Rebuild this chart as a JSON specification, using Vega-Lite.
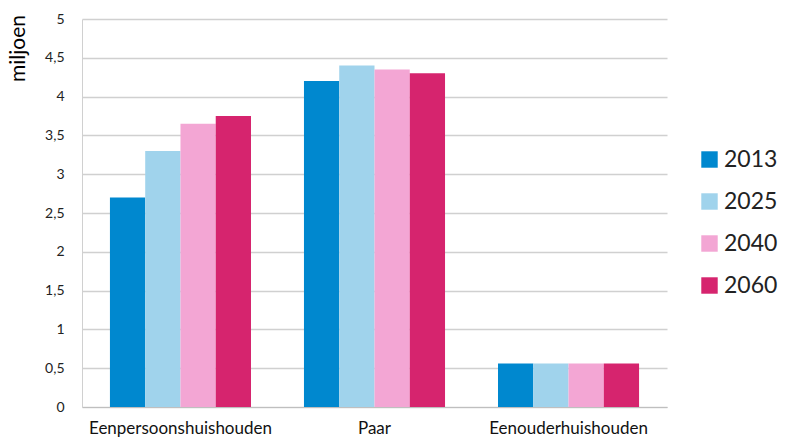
{
  "$schema": "https://vega.github.io/schema/vega-lite/v6.json",
  "width": 585,
  "height": 388,
  "autosize": {"type": "none"},
  "padding": {"left": 82, "top": 19, "right": 119, "bottom": 33},
  "background": "white",
  "data": {
    "values": [
      {"type": "Eenpersoonshuishouden", "jaar": "2013", "waarde": 2.7},
      {"type": "Eenpersoonshuishouden", "jaar": "2025", "waarde": 3.3},
      {"type": "Eenpersoonshuishouden", "jaar": "2040", "waarde": 3.65},
      {"type": "Eenpersoonshuishouden", "jaar": "2060", "waarde": 3.75},
      {"type": "Paar", "jaar": "2013", "waarde": 4.2},
      {"type": "Paar", "jaar": "2025", "waarde": 4.4},
      {"type": "Paar", "jaar": "2040", "waarde": 4.35},
      {"type": "Paar", "jaar": "2060", "waarde": 4.3},
      {"type": "Eenouderhuishouden", "jaar": "2013", "waarde": 0.56},
      {"type": "Eenouderhuishouden", "jaar": "2025", "waarde": 0.56},
      {"type": "Eenouderhuishouden", "jaar": "2040", "waarde": 0.56},
      {"type": "Eenouderhuishouden", "jaar": "2060", "waarde": 0.56}
    ]
  },
  "mark": {"type": "bar"},
  "encoding": {
    "x": {
      "field": "type",
      "type": "nominal",
      "sort": ["Eenpersoonshuishouden", "Paar", "Eenouderhuishouden"],
      "scale": {"paddingInner": 0.273, "paddingOuter": 0.144},
      "axis": {
        "title": null,
        "labelAngle": 0,
        "ticks": false,
        "domainColor": "#bfbfbf",
        "labelFont": "Lato",
        "labelFontSize": 17,
        "labelLimit": 400,
        "labelColor": "#111111",
        "labelPadding": 13
      }
    },
    "xOffset": {
      "field": "jaar",
      "type": "nominal",
      "scale": {"paddingInner": 0, "paddingOuter": 0}
    },
    "y": {
      "field": "waarde",
      "type": "quantitative",
      "scale": {"domain": [0, 5], "nice": false},
      "axis": {
        "title": "miljoen",
        "values": [0, 0.5, 1, 1.5, 2, 2.5, 3, 3.5, 4, 4.5, 5],
        "labelExpr": "replace(format(datum.value, '.2~f'), '.', ',')",
        "ticks": false,
        "labelPadding": 18,
        "labelFont": "Lato",
        "labelFontSize": 14,
        "labelColor": "#222222",
        "domainColor": "#d0d0d0",
        "gridColor": "#d0d0d0",
        "gridWidth": 1.5,
        "titleFont": "Lato",
        "titleFontSize": 21,
        "titleFontWeight": "normal",
        "titleColor": "#000000",
        "titleAngle": -90,
        "titleX": -64,
        "titleY": 29,
        "titleAlign": "center",
        "titleBaseline": "middle"
      }
    },
    "color": {
      "field": "jaar",
      "type": "nominal",
      "scale": {
        "domain": ["2013", "2025", "2040", "2060"],
        "range": ["#0088CF", "#A0D3EC", "#F3A6D4", "#D6246E"]
      },
      "legend": {
        "title": null,
        "orient": "none",
        "legendX": 616,
        "legendY": 129,
        "symbolType": "square",
        "symbolSize": 270,
        "symbolStrokeWidth": 0,
        "labelFont": "Lato",
        "labelFontSize": 23,
        "labelColor": "#222222",
        "rowPadding": 18,
        "labelOffset": 3
      }
    }
  },
  "config": {"view": {"stroke": null}}
}
